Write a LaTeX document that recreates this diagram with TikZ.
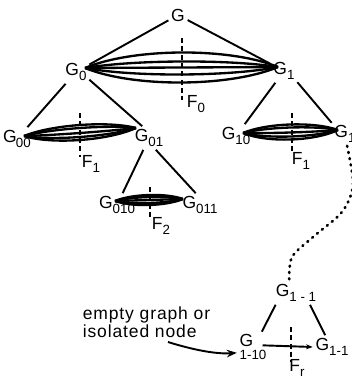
\documentclass[tikz,border=0pt]{standalone}
\usepackage{fontspec}
\setmainfont{Liberation Sans}
\newfontfamily\notefont[LetterSpace=5]{Liberation Sans}
\usetikzlibrary{calc,arrows.meta}
\newcommand{\gsub}[1]{\raisebox{-3.4pt}{\fontsize{8}{8}\selectfont #1}}
\newcommand{\lensarcs}[3]{%
  \foreach \h in {#3}{%
    \draw[lensline] (#1) .. controls ($(#1)!0.25!(#2)+(0,{4*(\h)/3})$) and ($(#1)!0.75!(#2)+(0,{4*(\h)/3})$) .. (#2);}}
\begin{document}
\begin{tikzpicture}[x=0.6pt,y=-0.6pt,
  lbl/.style={inner sep=1.5pt,font=\fontsize{10.5}{11}\selectfont},
  edge/.style={line width=1.15pt},
  lensline/.style={line width=1.4pt},
  cut/.style={line width=0.85pt,dash pattern=on 3pt off 2pt},
  dots/.style={line width=1.6pt,dash pattern=on 0.6pt off 3.2pt,line cap=round}]
\useasboundingbox (0,0) rectangle (352,379);

% labels
\node[lbl] (g)    at (178,15)  {G};
\node[lbl] (g0)   at (76,72)   {G\gsub{0}};
\node[lbl] (g1)   at (284,71)  {G\gsub{1}};
\node[lbl] (g00)  at (17,139)  {G\kern-0.5pt\gsub{00}};
\node[lbl] (g01)  at (149,138) {G\gsub{01}};
\node[lbl] (g10)  at (236,136) {G\gsub{10}};
\node[lbl] (g1r)  at (345,134) {G\gsub{1}};
\node[lbl] (g010) at (117,205) {G\gsub{010}};
\node[lbl] (g011) at (200,205) {G\gsub{011}};
\node[lbl] (g11t) at (296,293) {G\gsub{1 - 1}};
\node[lbl,align=left] (g110) at (253,347) {G\\[-3.5pt]{\fontsize{8}{8}\selectfont 1-10}};
\node[lbl] (g11r) at (332,347) {G\gsub{1-1}};

\node[lbl] (f0)  at (196,104) {F\gsub{0}};
\node[lbl] (f1a) at (91,164)  {F\gsub{1}};
\node[lbl] (f1b) at (301,161) {F\gsub{1}};
\node[lbl] (f2)  at (161,226) {F\gsub{2}};
\node[lbl] (fr)  at (297,368) {F\gsub{r}};

\node[lbl,align=left,anchor=west,font=\notefont\fontsize{10.5}{11}\selectfont] (txt) at (80,322) {empty graph or\\isolated node};

% tree edges
\draw[edge] (g) -- (g0);
\draw[edge] (g) -- (g1);
\draw[edge] (g0) -- (g00);
\draw[edge] (g0.-30) -- (g01.120);
\draw[edge] (g1) -- (g10);
\draw[edge] (g1.-40) -- (g1r.140);
\draw[edge] (g01) -- (g010);
\draw[edge] (g01.-60) -- (g011.110);
\draw[edge] (g11t.-150) -- (g110.60);
\draw[edge] (g11t.-40) -- (g11r.120);
\draw[edge,-{Stealth[length=4pt,width=3pt]}] ([xshift=-4pt,yshift=1pt]g110.east) -- (g11r.west);

% lenses (cuts)
\coordinate (l0a) at (85,68);  \coordinate (l0b) at (278,67);
\coordinate (l1a) at (24,136); \coordinate (l1b) at (136,128);
\coordinate (l2a) at (243,133);\coordinate (l2b) at (338,130);
\coordinate (l3a) at (115,201);\coordinate (l3b) at (183,199);
\lensarcs{l0a}{l0b}{-15,-6,0,7,15}
\lensarcs{l1a}{l1b}{-7,-4,1,5,8}
\lensarcs{l2a}{l2b}{-7,-4,1,5,8}
\lensarcs{l3a}{l3b}{-5,-3,0,3,5}

% dashed separators
\draw[cut] (182,38) -- (182,100);
\draw[cut] (80,113) -- (80,157);
\draw[cut] (292,113) -- (292,153);
\draw[cut] (150,187) -- (150,217);
\draw[cut] (291,327) -- (291,362);

% dotted continuation
\draw[dots] plot[smooth] coordinates {(g1r.-80) (353,185) (342,212) (313,237) (292,257) (g11t.120)};

% annotation arrow
\coordinate (astart) at (168,342);
\draw[edge,-{Stealth[length=6pt,width=4.5pt]}] (astart) .. controls (200,352) and (220,354) .. ([yshift=-3.5pt]g110.west);
\end{tikzpicture}
\end{document}
